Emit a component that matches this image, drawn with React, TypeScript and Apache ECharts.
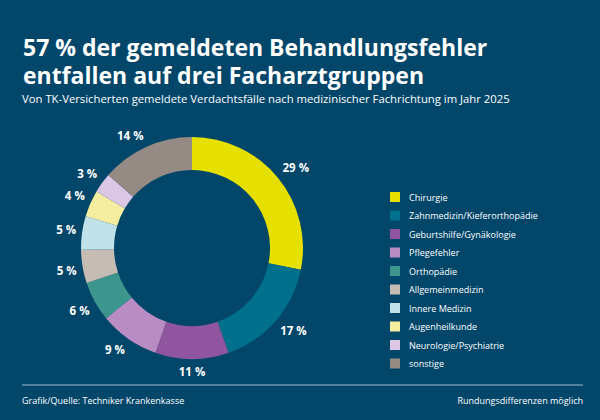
import React, { useEffect, useRef } from "react";
import * as echarts from "echarts";

// Verdachtsfälle nach Fachrichtung, Anteile in Prozent (Rundungsdifferenzen möglich)
const categories = [
  "Chirurgie",
  "Zahnmedizin/Kieferorthopädie",
  "Geburtshilfe/Gynäkologie",
  "Pflegefehler",
  "Orthopädie",
  "Allgemeinmedizin",
  "Innere Medizin",
  "Augenheilkunde",
  "Neurologie/Psychiatrie",
  "sonstige",
];
const shares = [29, 17, 11, 9, 6, 5, 5, 4, 3, 14];
const colors = [
  "#e6e000",
  "#00708c",
  "#8f559f",
  "#b98cc4",
  "#3d968e",
  "#c6bcb3",
  "#bfe2ea",
  "#f5eea0",
  "#dcc6e6",
  "#958b84",
];

const titleLines = [
  "57 % der gemeldeten Behandlungsfehler",
  "entfallen auf drei Facharztgruppen",
];
const subtitle =
  "Von TK-Versicherten gemeldete Verdachtsfälle nach medizinischer Fachrichtung im Jahr 2025";
const sourceNote = "Grafik/Quelle: Techniker Krankenkasse";
const roundingNote = "Rundungsdifferenzen möglich";

const BG = "#02466a";
const FONT = "'Open Sans', 'Noto Sans', sans-serif";

const clamp = (v: number) => Math.max(-1, Math.min(1, v));

export default function App() {
  const ref = useRef<HTMLDivElement>(null);

  useEffect(() => {
    if (!ref.current) return;
    const chart = echarts.init(ref.current, undefined, { renderer: "svg" });

    const data = categories.map((name, i) => ({
      name,
      value: shares[i],
      itemStyle: { color: colors[i] },
    }));

    chart.setOption({
      animation: false,
      backgroundColor: BG,
      textStyle: { fontFamily: FONT },
      graphic: [
        {
          type: "text",
          x: 23,
          y: 33,
          style: {
            text: titleLines.join("\n"),
            fill: "#ffffff",
            font: `bold 23px ${FONT}`,
            lineHeight: 28,
          },
        },
        {
          type: "text",
          x: 22,
          y: 93,
          style: {
            text: subtitle,
            fill: "#ffffff",
            font: `11.3px ${FONT}`,
          },
        },
        {
          type: "line",
          shape: { x1: 22, y1: 385, x2: 583, y2: 385 },
          style: { stroke: "#6f97b0", lineWidth: 1.5 },
        },
        {
          type: "text",
          x: 22,
          y: 396,
          style: { text: sourceNote, fill: "#ffffff", font: `9px ${FONT}` },
        },
        {
          type: "text",
          x: 583,
          y: 396,
          style: {
            text: roundingNote,
            fill: "#ffffff",
            font: `9px ${FONT}`,
            align: "right",
          },
        },
      ],
      legend: {
        orient: "vertical",
        left: 390,
        top: 190,
        padding: 0,
        icon: "rect",
        itemWidth: 10,
        itemHeight: 10,
        itemGap: 4.5,
        selectedMode: false,
        data: categories.map((name, i) => ({
          name,
          itemStyle: { color: colors[i] },
        })),
        textStyle: {
          color: "#ffffff",
          fontSize: 9,
          lineHeight: 14,
          fontFamily: FONT,
          padding: [0, 0, 0, 4],
        },
      },
      series: [
        {
          type: "pie",
          center: [192, 248],
          radius: [78, 111],
          startAngle: 90,
          clockwise: true,
          silent: true,
          avoidLabelOverlap: false,
          label: {
            show: true,
            position: "outside",
            alignTo: "none",
            formatter: "{c} %",
            color: "#ffffff",
            fontSize: 11.5,
            fontWeight: "bold",
            fontFamily: FONT,
          },
          // invisible guide line: only used to find the anchor just outside each slice
          labelLine: {
            show: true,
            length: 6,
            length2: 0,
            smooth: false,
            lineStyle: { opacity: 0, width: 0 },
          },
          labelLayout: (params: any) => {
            const pts = params.labelLinePoints;
            if (!pts || pts.length < 2) return {};
            const [p0, p1] = pts;
            const dx = p1[0] - p0[0];
            const dy = p1[1] - p0[1];
            const len = Math.hypot(dx, dy) || 1;
            const ux = dx / len;
            const uy = dy / len;
            const w = params.labelRect.width;
            const h = params.labelRect.height;
            // push the label box off the anchor so its nearest edge touches it
            return {
              x: p1[0] + (w / 2) * clamp(ux * 3),
              y: p1[1] + (h / 2) * clamp(uy * 3),
              align: "center",
              verticalAlign: "middle",
            };
          },
          data,
        },
      ],
    });

    return () => chart.dispose();
  }, []);

  return (
    <div
      ref={ref}
      style={{ position: "fixed", left: 0, top: 0, width: 600, height: 420 }}
    />
  );
}
